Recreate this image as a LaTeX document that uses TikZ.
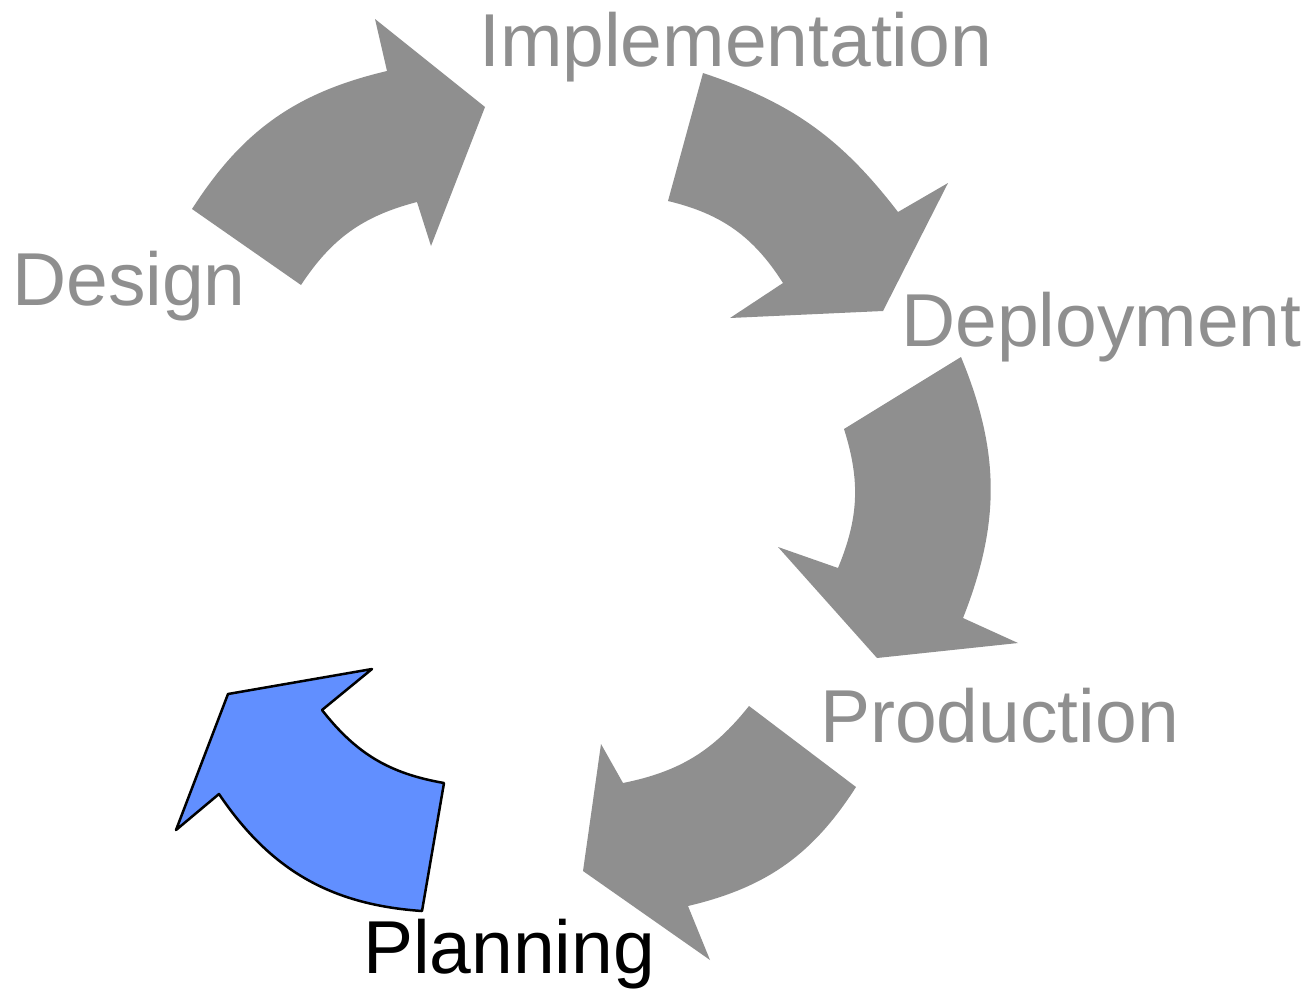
\documentclass[tikz,border=0pt]{standalone}
\usepackage{fontspec}
\setmainfont{Liberation Sans}
\definecolor{arrowgray}{RGB}{143,143,143}
\definecolor{planblue}{RGB}{97,143,255}

\begin{document}
\begin{tikzpicture}[x=1pt, y=-1pt,
        phase/.style={font=\fontsize{75}{75}\selectfont, text=arrowgray, inner sep=0pt, anchor=base west},
        cyclearrow/.style={fill=arrowgray},
        activearrow/.style={fill=planblue, draw=black, line width=2.5pt, line join=round}]
            \useasboundingbox (0,0) rectangle (1308,991);

            % Arrows of the cycle, clockwise from Design
            \fill[cyclearrow] (192,209) to[bend left=22] (387,71) -- (375,19) -- (485,107) -- (431,246) -- (417,202) to[bend right=21] (301,285) -- cycle;
            \fill[cyclearrow] (703,73) to[bend left=17] (898,212) -- (948,183) -- (883,311) -- (730,318) -- (783,283) to[bend right=22] (668,201) -- cycle;
            \fill[cyclearrow] (961,357) to[bend left=22] (963,618) -- (1018,643) -- (877,658) -- (778,547) -- (838,568) to[bend right=20] (844,429) -- cycle;
            \fill[cyclearrow] (856,787) to[bend left=22] (688,906) -- (710,960) -- (583,871) -- (601,744) -- (623,783) to[bend right=20] (749,706) -- cycle;
            \filldraw[activearrow] (422,911) to[bend left=26] (219,794) -- (176,830) -- (228,694) -- (372,669) -- (322,710) to[bend right=21] (444,783) -- cycle;

            \node[phase] (design) at (12,305) {Design};
            \node[phase] (implementation) at (479,66) {Implementation};
            \node[phase] (deployment) at (901,346) {Deployment};
            \node[phase] (production) at (820,742) {Production};
            \node[phase, text=black] (planning) at (363,973) {Planning};
        \end{tikzpicture}
\end{document}
